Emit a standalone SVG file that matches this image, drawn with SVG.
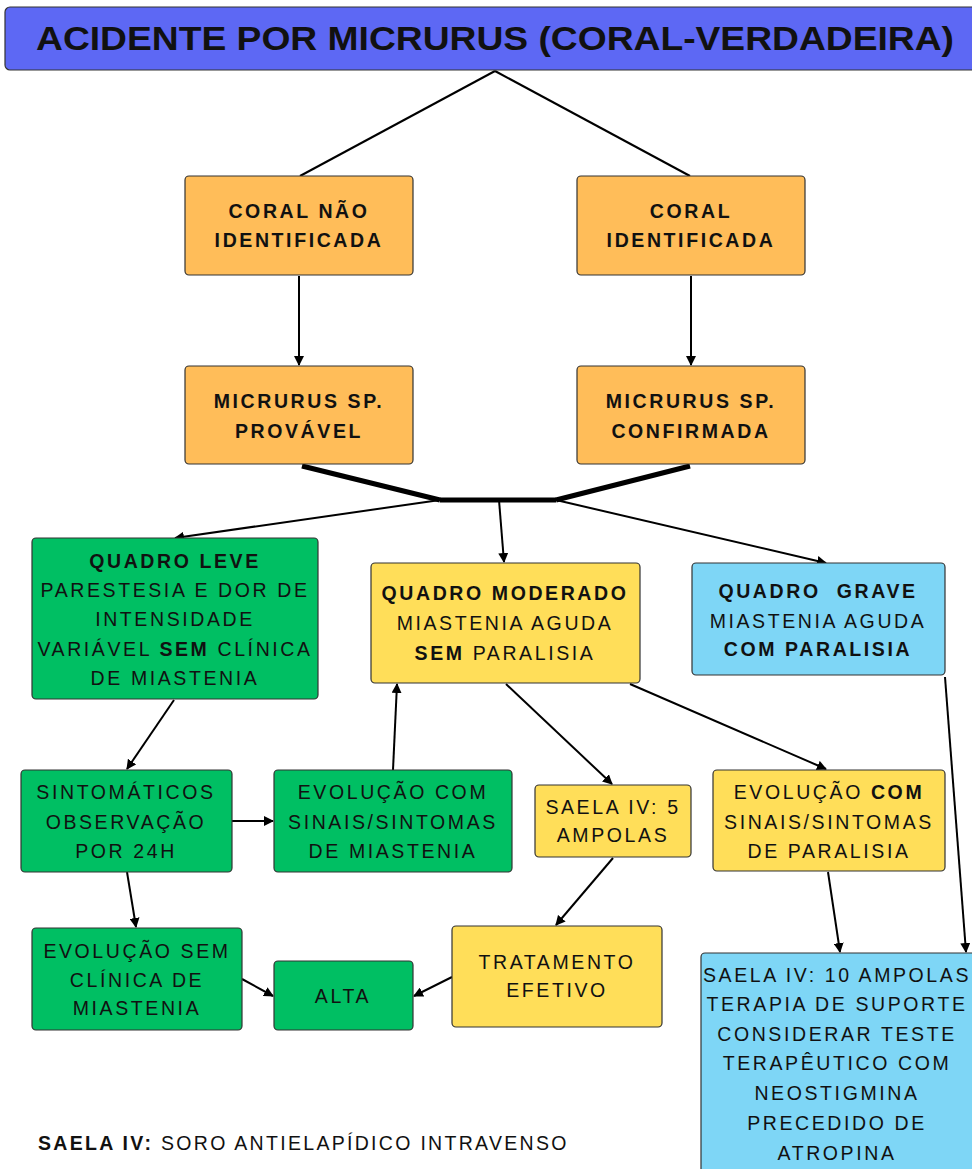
<svg xmlns="http://www.w3.org/2000/svg" width="972" height="1169" viewBox="0 0 972 1169">
<style>
.box{stroke:#333;stroke-width:1.2}
.or{fill:#ffbd59}.gr{fill:#00bf63}.ye{fill:#ffde59}.bl{fill:#7ed6f6}.ti{fill:#5d68f4}
text{font-family:"Liberation Sans",Arial,sans-serif;font-size:19.5px;letter-spacing:2.6px;fill:#111;text-anchor:middle}
.b{font-weight:bold}
.c line,.c path{stroke:#000;stroke-width:2;fill:none}
.c .thick{stroke-width:5}
</style>
<defs>
<marker id="ah" viewBox="0 0 10 10" refX="9" refY="5" markerWidth="5" markerHeight="5" orient="auto" markerUnits="strokeWidth">
<path d="M0,0 L10,5 L0,10 z" fill="#000"/>
</marker>
</defs>
<rect width="972" height="1169" fill="#fff"/>

<g class="c" id="connectors">
<line x1="495" y1="71" x2="300" y2="176"/>
<line x1="495" y1="71" x2="690" y2="176"/>
<line x1="299" y1="276" x2="299" y2="365" marker-end="url(#ah)"/>
<line x1="691" y1="276" x2="691" y2="365" marker-end="url(#ah)"/>
<line class="thick" x1="302" y1="466" x2="440" y2="500"/>
<line class="thick" x1="690" y1="466" x2="556" y2="500"/>
<line class="thick" x1="440" y1="500" x2="556" y2="500"/>
<line x1="440" y1="500" x2="175" y2="538" marker-end="url(#ah)"/>
<line x1="499" y1="500" x2="504" y2="562" marker-end="url(#ah)"/>
<line x1="556" y1="500" x2="826" y2="563" marker-end="url(#ah)"/>
<line x1="174" y1="700" x2="127" y2="769" marker-end="url(#ah)"/>
<line x1="232" y1="821" x2="273" y2="821" marker-end="url(#ah)"/>
<line x1="393" y1="770" x2="397" y2="684" marker-end="url(#ah)"/>
<line x1="127" y1="872" x2="136" y2="927" marker-end="url(#ah)"/>
<line x1="242" y1="979" x2="273" y2="996" marker-end="url(#ah)"/>
<line x1="452" y1="977" x2="414" y2="996" marker-end="url(#ah)"/>
<line x1="506" y1="684" x2="612" y2="784" marker-end="url(#ah)"/>
<line x1="613" y1="858" x2="556" y2="925" marker-end="url(#ah)"/>
<line x1="630" y1="684" x2="826" y2="769" marker-end="url(#ah)"/>
<line x1="828" y1="872" x2="840" y2="952" marker-end="url(#ah)"/>
<line x1="945" y1="677" x2="966" y2="952" marker-end="url(#ah)"/>
</g>

<g id="title">
<rect class="box ti" x="5" y="7" width="975" height="63" rx="5"/>
<text class="b" x="495" y="50" style="font-size:34px;letter-spacing:0" textLength="918" lengthAdjust="spacingAndGlyphs">ACIDENTE POR MICRURUS (CORAL-VERDADEIRA)</text>
</g>

<g id="n_coral_nao">
<rect class="box or" x="185" y="176" width="228" height="99" rx="4"/>
<text class="b" x="299" y="218">CORAL NÃO</text>
<text class="b" x="299" y="247">IDENTIFICADA</text>
</g>
<g id="n_coral_id">
<rect class="box or" x="577" y="176" width="228" height="99" rx="4"/>
<text class="b" x="691" y="218">CORAL</text>
<text class="b" x="691" y="247">IDENTIFICADA</text>
</g>
<g id="n_provavel">
<rect class="box or" x="185" y="366" width="228" height="98" rx="4"/>
<text class="b" x="299" y="408">MICRURUS SP.</text>
<text class="b" x="299" y="438">PROVÁVEL</text>
</g>
<g id="n_confirmada">
<rect class="box or" x="577" y="366" width="228" height="98" rx="4"/>
<text class="b" x="691" y="408">MICRURUS SP.</text>
<text class="b" x="691" y="438">CONFIRMADA</text>
</g>

<g id="n_leve">
<rect class="box gr" x="32" y="538" width="286" height="161" rx="4"/>
<text class="b" x="175" y="568">QUADRO LEVE</text>
<text x="175" y="597">PARESTESIA E DOR DE</text>
<text x="175" y="626">INTENSIDADE</text>
<text x="175" y="656">VARIÁVEL <tspan class="b">SEM</tspan> CLÍNICA</text>
<text x="175" y="685">DE MIASTENIA</text>
</g>
<g id="n_moderado">
<rect class="box ye" x="371" y="563" width="269" height="120" rx="4"/>
<text class="b" x="505" y="600">QUADRO MODERADO</text>
<text x="505" y="630">MIASTENIA AGUDA</text>
<text x="505" y="660"><tspan class="b">SEM</tspan> PARALISIA</text>
</g>
<g id="n_grave">
<rect class="box bl" x="692" y="563" width="253" height="112" rx="4"/>
<text class="b" x="818" y="598" xml:space="preserve">QUADRO  GRAVE</text>
<text x="818" y="628">MIASTENIA AGUDA</text>
<text class="b" x="818" y="656">COM PARALISIA</text>
</g>

<g id="n_sintomaticos">
<rect class="box gr" x="21" y="770" width="211" height="102" rx="4"/>
<text x="126" y="799">SINTOMÁTICOS</text>
<text x="126" y="829">OBSERVAÇÃO</text>
<text x="126" y="858">POR 24H</text>
</g>
<g id="n_evol_miastenia">
<rect class="box gr" x="274" y="770" width="238" height="102" rx="4"/>
<text x="393" y="799">EVOLUÇÃO COM</text>
<text x="393" y="829">SINAIS/SINTOMAS</text>
<text x="393" y="858">DE MIASTENIA</text>
</g>
<g id="n_saela5">
<rect class="box ye" x="535" y="785" width="156" height="72" rx="4"/>
<text x="613" y="814">SAELA IV: 5</text>
<text x="613" y="842">AMPOLAS</text>
</g>
<g id="n_evol_paralisia">
<rect class="box ye" x="713" y="770" width="232" height="101" rx="4"/>
<text x="829" y="799">EVOLUÇÃO <tspan class="b">COM</tspan></text>
<text x="829" y="829">SINAIS/SINTOMAS</text>
<text x="829" y="858">DE PARALISIA</text>
</g>

<g id="n_evol_sem">
<rect class="box gr" x="32" y="928" width="210" height="102" rx="4"/>
<text x="137" y="958">EVOLUÇÃO SEM</text>
<text x="137" y="987">CLÍNICA DE</text>
<text x="137" y="1015">MIASTENIA</text>
</g>
<g id="n_alta">
<rect class="box gr" x="274" y="961" width="139" height="69" rx="4"/>
<text x="343" y="1003">ALTA</text>
</g>
<g id="n_tratamento">
<rect class="box ye" x="452" y="926" width="210" height="101" rx="4"/>
<text x="557" y="969">TRATAMENTO</text>
<text x="557" y="997">EFETIVO</text>
</g>
<g id="n_saela10">
<rect class="box bl" x="701" y="953" width="290" height="240" rx="4"/>
<text x="837" y="982">SAELA IV: 10 AMPOLAS</text>
<text x="837" y="1011">TERAPIA DE SUPORTE</text>
<text x="837" y="1041">CONSIDERAR TESTE</text>
<text x="837" y="1070">TERAPÊUTICO COM</text>
<text x="837" y="1100">NEOSTIGMINA</text>
<text x="837" y="1130">PRECEDIDO DE</text>
<text x="837" y="1160">ATROPINA</text>
</g>

<g id="footer">
<text x="38" y="1150" style="text-anchor:start;font-size:19.5px;letter-spacing:2.3px"><tspan class="b">SAELA IV:</tspan> SORO ANTIELAPÍDICO INTRAVENSO</text>
</g>
</svg>
